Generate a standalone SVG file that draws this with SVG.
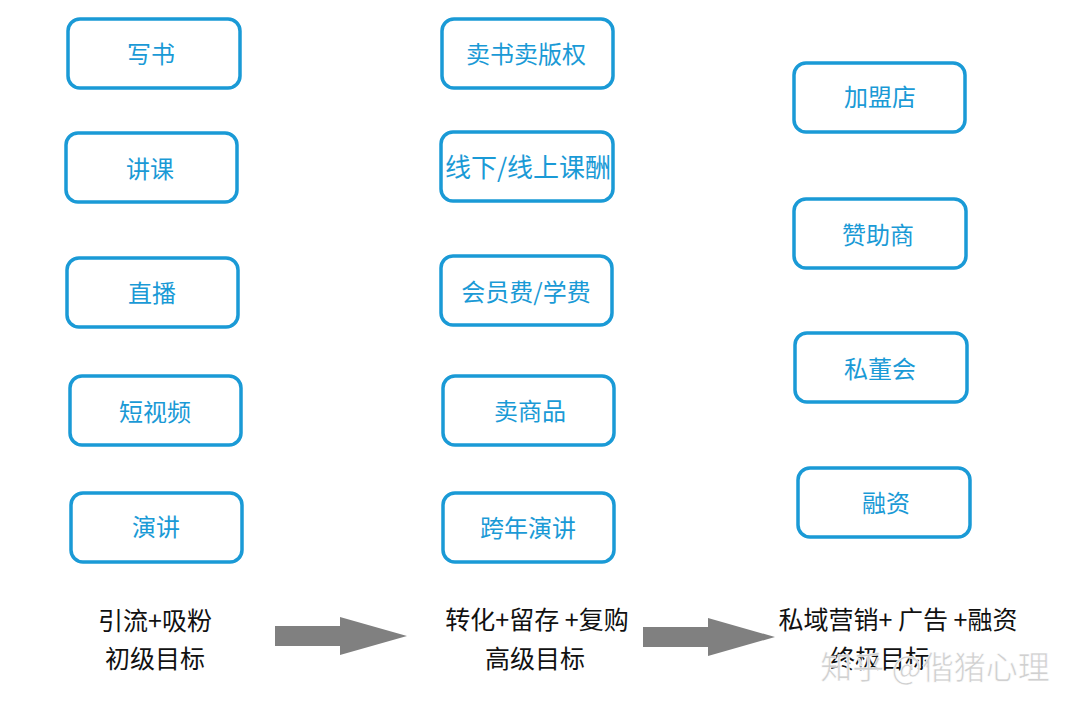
<svg xmlns="http://www.w3.org/2000/svg" width="1080" height="711" viewBox="0 0 1080 711">
<style>
.box{fill:#ffffff;stroke:#1a9ad6;stroke-width:3.5}
.bt{font-family:"Noto Sans CJK SC","Liberation Sans",sans-serif;font-size:24px;fill:#1a9ad6;text-anchor:middle;dominant-baseline:central}
.lb{font-family:"Noto Sans CJK SC","Liberation Sans",sans-serif;font-size:25px;fill:#111;text-anchor:middle}
.arr{fill:#808080}
.wm{font-family:"Noto Sans CJK SC","Liberation Sans",sans-serif;font-size:32px;fill:#d0d0d0;stroke:#ffffff;stroke-width:0.6;text-anchor:middle}
</style>
<rect width="1080" height="711" fill="#ffffff"/>
<g id="n1"><rect class="box" x="68" y="19" width="172" height="69" rx="12"/><text class="bt" x="151" y="52">写书</text></g>
<g id="n2"><rect class="box" x="66" y="133" width="171" height="69" rx="12"/><text class="bt" x="150" y="167">讲课</text></g>
<g id="n3"><rect class="box" x="67" y="258" width="171" height="69" rx="12"/><text class="bt" x="152" y="291">直播</text></g>
<g id="n4"><rect class="box" x="70" y="376" width="171" height="69" rx="12"/><text class="bt" x="155" y="410">短视频</text></g>
<g id="n5"><rect class="box" x="71" y="493" width="171" height="69" rx="12"/><text class="bt" x="156" y="525">演讲</text></g>
<g id="m1"><rect class="box" x="442" y="19" width="171" height="69" rx="12"/><text class="bt" x="526" y="52">卖书卖版权</text></g>
<g id="m2"><rect class="box" x="441" y="132" width="172" height="69" rx="12"/><text class="bt" x="528" y="165" style="font-size:26px">线下/线上课酬</text></g>
<g id="m3"><rect class="box" x="441" y="256" width="171" height="69" rx="12"/><text class="bt" x="526" y="290">会员费/学费</text></g>
<g id="m4"><rect class="box" x="443" y="376" width="171" height="69" rx="12"/><text class="bt" x="530" y="409">卖商品</text></g>
<g id="m5"><rect class="box" x="443" y="493" width="171" height="69" rx="12"/><text class="bt" x="528" y="526">跨年演讲</text></g>
<g id="r1"><rect class="box" x="794" y="63" width="171" height="69" rx="12"/><text class="bt" x="880" y="95">加盟店</text></g>
<g id="r2"><rect class="box" x="794" y="199" width="172" height="69" rx="12"/><text class="bt" x="878" y="233">赞助商</text></g>
<g id="r3"><rect class="box" x="795" y="333" width="172" height="69" rx="12"/><text class="bt" x="880" y="367">私董会</text></g>
<g id="r4"><rect class="box" x="798" y="468" width="172" height="69" rx="12"/><text class="bt" x="886" y="501">融资</text></g>
<g id="labels">
<text class="lb" x="155" y="630">引流+吸粉</text>
<text class="lb" x="155" y="668">初级目标</text>
<text class="lb" x="537" y="629">转化+留存 +复购</text>
<text class="lb" x="535" y="668">高级目标</text>
<text class="lb" x="898" y="629">私域营销+ 广告 +融资</text>
<text class="lb" x="880" y="668">终极目标</text>
</g>
<g id="connectors">
<polygon class="arr" points="275,626 340,626 340,617 407,636 340,655 340,646 275,646"/>
<polygon class="arr" points="643,627 708,627 708,618 775,637 708,656 708,647 643,647"/>
</g>
<g id="watermark"><text class="wm" x="935" y="679">知乎 @偕猪心理</text></g>
</svg>
